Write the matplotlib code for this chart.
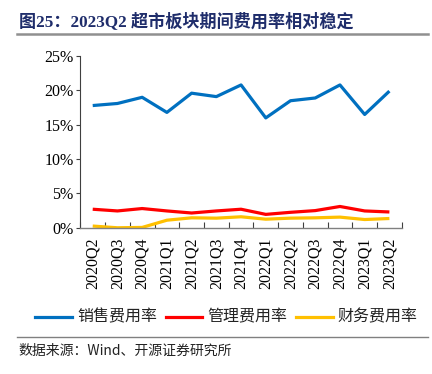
import matplotlib
matplotlib.use("Agg")
import matplotlib.pyplot as plt
from matplotlib.lines import Line2D

categories = ["2020Q2", "2020Q3", "2020Q4", "2021Q1", "2021Q2", "2021Q3", "2021Q4",
              "2022Q1", "2022Q2", "2022Q3", "2022Q4", "2023Q1", "2023Q2"]
sales_rate = [17.8, 18.1, 19.0, 16.8, 19.6, 19.1, 20.8, 16.0, 18.5, 18.9, 20.8, 16.5, 19.9]
admin_rate = [2.7, 2.45, 2.8, 2.45, 2.15, 2.45, 2.7, 1.95, 2.25, 2.5, 3.1, 2.45, 2.3]
fin_rate = [0.25, 0.0, 0.05, 1.1, 1.45, 1.4, 1.6, 1.25, 1.4, 1.45, 1.55, 1.2, 1.35]
y_ticks = [0, 5, 10, 15, 20, 25]
series_names = ["销售费用率", "管理费用率", "财务费用率"]
colors = ["#0070C0", "#FF0000", "#FFC000"]

SERIF = ["Liberation Serif", "Noto Sans CJK SC"]
CJK = ["Noto Sans CJK SC", "DejaVu Sans"]

fig = plt.figure(figsize=(4.32, 3.74), dpi=100)
ax = fig.add_axes([0.186, 0.391, 0.744, 0.459])

x = list(range(len(categories)))
for vals, c in zip([sales_rate, admin_rate, fin_rate], colors):
    ax.plot(x, vals, color=c, lw=2.3, solid_capstyle="butt")

ax.set_xlim(-0.5, len(categories) - 0.5)
ax.set_ylim(0, 25)
ax.set_yticks(y_ticks)
ax.set_yticklabels([f"{v}%" for v in y_ticks], fontfamily=SERIF, fontsize=11.5)
ax.tick_params(axis="y", length=3, width=0.8, color="#404040", pad=2)

ax.set_xticks(x)
ax.set_xticklabels(categories, rotation=90, fontfamily=SERIF, fontsize=11.5)
ax.tick_params(axis="x", which="major", length=0, pad=7)
ax.set_xticks([i - 0.5 for i in range(len(categories) + 1)], minor=True)
ax.tick_params(axis="x", which="minor", direction="in", length=4, width=0.8, color="#404040")

for s in ["top", "right"]:
    ax.spines[s].set_visible(False)
ax.spines["left"].set_color("#404040")
ax.spines["bottom"].set_color("#808080")
ax.spines["left"].set_linewidth(0.8)
ax.spines["bottom"].set_linewidth(1.0)

# title
fig.text(19 / 432, 1 - 21 / 374, "图25：2023Q2 超市板块期间费用率相对稳定", fontfamily=SERIF,
         fontweight="bold", fontsize=12.3, color="#1F2D6B", va="center", ha="left")
fig.add_artist(Line2D([17 / 432, 428 / 432], [1 - 34 / 374, 1 - 34 / 374], color="#909090", lw=1.8))

# legend
leg_y = 1 - 317 / 374
line_x = [(35, 72), (166, 202), (296, 333)]
text_x = [77, 207, 337]
for (x0, x1), tx, name, c in zip(line_x, text_x, series_names, colors):
    fig.add_artist(Line2D([x0 / 432, x1 / 432], [leg_y, leg_y], color=c, lw=2.3))
    fig.text(tx / 432, leg_y, name, fontfamily=CJK, fontsize=11.5,
             va="center", ha="left", color="#222222")

fig.add_artist(Line2D([17 / 432, 428 / 432], [1 - 337 / 374, 1 - 337 / 374], color="#808080", lw=1.0))
fig.text(18 / 432, 1 - 351 / 374, "数据来源：Wind、开源证券研究所", fontfamily=["Noto Sans CJK SC", "Liberation Serif"],
         fontsize=10, va="center", ha="left", color="#222222")

fig.savefig("out.png", dpi=100)
